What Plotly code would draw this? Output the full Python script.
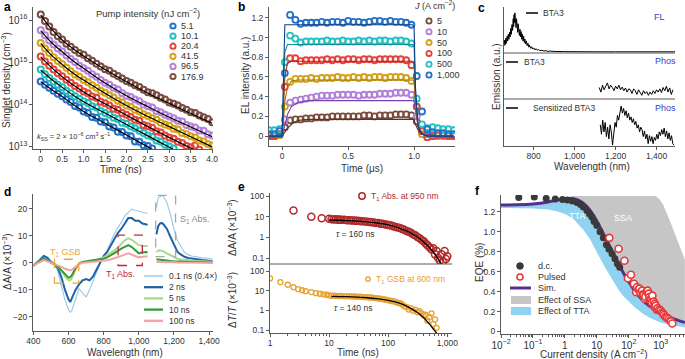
import plotly.graph_objects as go

W, H = 685, 359
FONT = "Liberation Sans"
TXT = "#333333"
AXC = "#5a5a5a"


def px(x):
    return x / W


def py(y):
    return 1 - y / H


# ---------------- panel a : singlet density (log10 values) ----------------
T_A = [0.0, 0.1, 0.2, 0.3, 0.4, 0.5, 0.6, 0.7, 0.8, 0.9, 1.0, 1.1, 1.2, 1.3, 1.4, 1.5, 1.6, 1.7, 1.8, 1.9,
       2.0, 2.1, 2.2, 2.3, 2.4, 2.5, 2.6, 2.7, 2.8, 2.9, 3.0, 3.1, 3.2, 3.3, 3.4, 3.5, 3.6, 3.7, 3.8, 3.9, 4.0]
A_NAMES = ["5.1", "10.1", "20.4", "41.5", "96.5", "176.9"]
A_COLORS = ["#2372c6", "#22bfc0", "#e6433b", "#d4a413", "#b483dc", "#7b4b40"]
A_LOG_51 = [14.55, 14.47, 14.40, 14.33, 14.26, 14.20, 14.12, 14.06, 13.97, 13.93, 13.84, 13.80, 13.71, 13.69,
            13.60, 13.58, 13.48, 13.46, 13.36, 13.35, 13.27, 13.25, 13.13, 13.12, 13.04, 13.02, 12.96]
A_LOG_101 = [14.83, 14.72, 14.63, 14.55, 14.47, 14.41, 14.33, 14.27, 14.20, 14.14, 14.08, 14.04, 13.96, 13.93,
             13.85, 13.80, 13.76, 13.69, 13.66, 13.57, 13.55, 13.48, 13.44, 13.38, 13.33, 13.27, 13.24, 13.15,
             13.12, 13.05, 13.01, 12.96]
A_LOG_204 = [15.14, 15.02, 14.92, 14.83, 14.74, 14.67, 14.59, 14.52, 14.44, 14.38, 14.31, 14.27, 14.19, 14.16,
             14.07, 14.03, 13.98, 13.90, 13.88, 13.80, 13.76, 13.71, 13.64, 13.62, 13.52, 13.49, 13.45, 13.37,
             13.34, 13.27, 13.22, 13.19, 13.12, 13.09, 13.02, 12.99, 13.03, 12.93]
A_LOG_415 = [15.46, 15.33, 15.22, 15.12, 15.03, 14.96, 14.87, 14.79, 14.71, 14.66, 14.58, 14.53, 14.46, 14.40,
             14.33, 14.28, 14.22, 14.17, 14.09, 14.05, 13.98, 13.95, 13.88, 13.84, 13.77, 13.73, 13.68, 13.64,
             13.57, 13.53, 13.50, 13.43, 13.41, 13.33, 13.30, 13.25, 13.22, 13.15, 13.13, 13.07, 13.03]
A_LOG_965 = [15.76, 15.64, 15.52, 15.42, 15.33, 15.26, 15.16, 15.08, 15.01, 14.92, 14.86, 14.80, 14.72, 14.66,
             14.58, 14.52, 14.47, 14.40, 14.36, 14.27, 14.21, 14.18, 14.12, 14.08, 14.00, 13.96, 13.93, 13.85,
             13.82, 13.76, 13.72, 13.68, 13.62, 13.60, 13.52, 13.48, 13.46, 13.39, 13.38, 13.30, 13.27]
A_LOG_1769 = [16.13, 15.98, 15.85, 15.72, 15.62, 15.54, 15.44, 15.37, 15.29, 15.22, 15.18, 15.10, 15.04, 14.97,
              14.90, 14.84, 14.80, 14.73, 14.68, 14.62, 14.56, 14.52, 14.46, 14.42, 14.35, 14.29, 14.27, 14.22,
              14.16, 14.12, 14.05, 14.02, 13.98, 13.92, 13.88, 13.82, 13.80, 13.74, 13.70, 13.66, 13.58]
T_FIT_A = [0, 0.25, 0.5, 0.75, 1, 1.5, 2, 2.5, 3, 3.5, 4]
A_FIT_51 = [14.54, 14.36, 14.19, 14.01, 13.84, 13.56, 13.28, 13.00, 12.72, 12.44, 12.16]
A_FIT_101 = [14.82, 14.60, 14.41, 14.23, 14.07, 13.80, 13.53, 13.26, 12.99, 12.72, 12.45]
A_FIT_204 = [15.13, 14.88, 14.66, 14.47, 14.30, 14.02, 13.75, 13.48, 13.22, 12.97, 12.72]
A_FIT_415 = [15.45, 15.17, 14.95, 14.75, 14.58, 14.27, 13.98, 13.72, 13.48, 13.24, 13.00]
A_FIT_965 = [15.75, 15.47, 15.25, 15.04, 14.86, 14.51, 14.21, 13.95, 13.70, 13.47, 13.24]
A_FIT_1769 = [16.12, 15.79, 15.53, 15.33, 15.15, 14.83, 14.54, 14.27, 14.03, 13.79, 13.56]
A_TICKS = [0, 0.5, 1.0, 1.5, 2.0, 2.5, 3.0, 3.5, 4.0]
A_TICKTEXT = ["0", "0.5", "1.0", "1.5", "2.0", "2.5", "3.0", "3.5", "4.0"]

# ---------------- panel b : EL transients ----------------
T_B = [-0.1, -0.06, -0.02, 0.02, 0.06, 0.1, 0.14, 0.18, 0.22, 0.26, 0.3, 0.34, 0.38, 0.42, 0.46, 0.5, 0.54,
       0.58, 0.62, 0.66, 0.7, 0.74, 0.78, 0.82, 0.86, 0.9, 0.94, 0.98, 1.02, 1.06, 1.1, 1.14, 1.18, 1.22, 1.26, 1.3]
B_NAMES = ["5", "10", "50", "100", "500", "1,000"]
B_COLORS = ["#7a4b3a", "#b07fd8", "#d4a017", "#e8403a", "#22c1c3", "#2470c8"]
B_LINE_COLORS = ["#5a3325", "#7a3fb0", "#a07a00", "#b01e1e", "#0e8f92", "#0d3f8a"]
B_5 = [0.0, 0.0, 0.01, 0.09, 0.16, 0.17, 0.17, 0.18, 0.18, 0.19, 0.19, 0.19, 0.20, 0.20, 0.20, 0.20, 0.20, 0.20,
       0.21, 0.21, 0.20, 0.21, 0.21, 0.21, 0.22, 0.22, 0.22, 0.21, 0.15, 0.06, 0.03, 0.02, 0.01, 0.01, 0.01, 0.01]
B_10 = [0.01, 0.01, 0.02, 0.17, 0.34, 0.36, 0.37, 0.38, 0.39, 0.40, 0.41, 0.41, 0.41, 0.42, 0.42, 0.42, 0.42, 0.41,
        0.42, 0.42, 0.42, 0.43, 0.43, 0.43, 0.44, 0.44, 0.44, 0.42, 0.20, 0.05, 0.02, 0.02, 0.01, 0.01, 0.01, 0.01]
B_50 = [0.0, 0.0, 0.01, 0.30, 0.55, 0.58, 0.58, 0.58, 0.59, 0.58, 0.59, 0.59, 0.59, 0.60, 0.59, 0.59, 0.60, 0.59,
        0.60, 0.59, 0.60, 0.60, 0.59, 0.60, 0.60, 0.60, 0.59, 0.56, 0.30, 0.02, -0.01, 0.0, 0.0, 0.0, 0.0, 0.0]
B_100 = [0.0, 0.0, 0.02, 0.50, 0.79, 0.79, 0.76, 0.77, 0.77, 0.77, 0.77, 0.78, 0.77, 0.78, 0.77, 0.78, 0.78, 0.77,
         0.78, 0.78, 0.77, 0.78, 0.78, 0.78, 0.78, 0.78, 0.77, 0.72, 0.30, 0.05, -0.01, 0.0, 0.01, 0.01, 0.0, 0.0]
B_500 = [0.06, 0.06, 0.07, 0.75, 1.02, 0.99, 0.95, 0.96, 0.96, 0.96, 0.96, 0.97, 0.96, 0.96, 0.97, 0.96, 0.96, 0.97,
         0.96, 0.97, 0.96, 0.97, 0.97, 0.96, 0.97, 0.97, 0.96, 0.94, 0.38, 0.12, 0.08, 0.09, 0.08, 0.07, 0.07, 0.06]
B_1000 = [0.02, 0.02, 0.05, 0.64, 1.23, 1.18, 1.14, 1.15, 1.15, 1.15, 1.16, 1.15, 1.16, 1.16, 1.15, 1.17, 1.16, 1.16,
          1.15, 1.16, 1.17, 1.17, 1.16, 1.17, 1.16, 1.16, 1.15, 1.13, 0.61, 0.25, 0.07, 0.04, 0.03, 0.03, 0.02, 0.02]
T_BL = [-0.1, 0.0, 0.01, 0.02, 0.04, 0.07, 0.12, 0.2, 0.99, 1.0, 1.01, 1.03, 1.06, 1.1, 1.2, 1.3]
BL_5 = [0, 0, 0.02, 0.04, 0.08, 0.12, 0.16, 0.17, 0.17, 0.17, 0.12, 0.06, 0.02, 0.01, 0, 0]
BL_10 = [0, 0, 0.05, 0.12, 0.22, 0.30, 0.34, 0.36, 0.36, 0.35, 0.25, 0.10, 0.03, 0.01, 0, 0]
BL_50 = [0, 0, 0.15, 0.35, 0.50, 0.56, 0.57, 0.57, 0.57, 0.56, 0.35, 0.10, 0.02, 0, 0, 0]
BL_100 = [0, 0, 0.30, 0.60, 0.74, 0.76, 0.76, 0.76, 0.76, 0.74, 0.40, 0.10, 0.02, 0, 0, 0]
BL_500 = [0, 0, 0.45, 0.85, 0.93, 0.93, 0.93, 0.93, 0.93, 0.90, 0.45, 0.10, 0.02, 0, 0, 0]
BL_1000 = [0, 0, 0.60, 1.13, 1.13, 1.13, 1.13, 1.13, 1.13, 1.10, 0.50, 0.10, 0.02, 0, 0, 0]

# ---------------- panel c : emission spectra ----------------
WL_FL = [655, 658, 661, 664, 667, 670, 673, 676, 679, 682, 685, 688, 691, 694, 697, 700, 702, 704, 706, 708,
         710, 712, 714, 716, 718, 720, 722, 724, 726, 728, 730, 733, 736, 739, 742, 745, 748, 751, 754, 757,
         760, 764, 768, 772, 776, 780, 785, 790, 795, 800, 806, 812, 818, 824, 830, 840, 850, 860, 870, 880,
         900, 950, 1000, 1100, 1200, 1300, 1400, 1490]
FL = [0.15, 0.30, 0.18, 0.35, 0.22, 0.40, 0.28, 0.45, 0.32, 0.50, 0.38, 0.60, 0.45, 0.70, 0.55, 0.85, 0.65, 0.95,
      0.75, 1.00, 0.70, 0.92, 0.62, 0.85, 0.58, 0.78, 0.50, 0.72, 0.48, 0.65, 0.42, 0.58, 0.38, 0.52, 0.32, 0.45,
      0.28, 0.40, 0.24, 0.33, 0.20, 0.28, 0.16, 0.22, 0.12, 0.17, 0.09, 0.13, 0.07, 0.10, 0.05, 0.08, 0.04, 0.06,
      0.03, 0.04, 0.02, 0.03, 0.01, 0.02, 0.01, 0.005, 0.0, 0.0, 0.0, 0.0, 0.0, 0.0]
WL_PHOS1 = list(range(1120, 1481, 8))
PHOS1 = [0.25, 0.15, 0.30, 0.20, 0.28, 0.35, 0.22, 0.30, 0.25, 0.18, 0.28, 0.22, 0.30, 0.20, 0.26, 0.18, 0.24,
         0.15, 0.22, 0.20, 0.12, 0.22, 0.18, 0.10, 0.20, 0.15, 0.08, 0.18, 0.12, 0.16, 0.08, 0.15, 0.10, 0.18,
         0.12, 0.20, 0.15, 0.22, 0.14, 0.25, 0.18, 0.28, 0.15, 0.24, 0.10, 0.20]
WL_PHOS2 = list(range(1125, 1486, 6))
PHOS2 = [0.45, 0.25, 0.55, 0.30, 0.50, 0.20, 0.40, 0.15, 0.45, 0.30, 0.02, 0.35, 0.50, 0.40, 0.65, 0.55, 0.75,
         0.85, 0.70, 0.80, 0.65, 0.75, 0.60, 0.70, 0.55, 0.62, 0.50, 0.58, 0.45, 0.52, 0.38, 0.45, 0.30, 0.40,
         0.35, 0.20, 0.32, 0.15, 0.25, 0.05, 0.22, 0.10, 0.20, 0.05, 0.18, 0.12, 0.25, 0.15, 0.30, 0.22, 0.35,
         0.25, 0.38, 0.20, 0.32, 0.15, 0.28, 0.12, 0.22, 0.05, 0.02]

# ---------------- panel d : transient absorption spectra ----------------
WL_D = [400, 420, 440, 460, 480, 500, 520, 540, 560, 580, 600, 610, 620, 640, 660, 680, 700, 720, 740, 760, 780,
        800, 820, 840, 860, 880, 900, 920, 940, 960, 980, 1000, 1020, 1040, 1050, 1075, 1100, 1110, 1120, 1130,
        1140, 1160, 1180, 1200, 1220, 1240, 1260, 1280, 1300, 1330, 1360, 1400, 1420]
D_NAMES = ["0.1 ns (0.4×)", "2 ns", "5 ns", "10 ns", "100 ns"]
D_COLORS = ["#9fcbe8", "#1f62a8", "#a8da8e", "#3a9a3a", "#f2a3a3"]
D_WIDTHS = [1.2, 2.0, 2.0, 2.0, 2.0]
D_01 = [-1.2, 0.2, 1.5, 2.7, 2.0, 0.5, -0.7, -3.4, -8.3, -13.8, -17.4, -18.3, -17.4, -13.2, -9.5, -11.3, -12.6,
        -10.0, -7.0, -3.4, 0.0, 2.7, 4.5, 7.6, 10.6, 13.0, 14.9, 17.3, 18.5, 19.8, 19.4, 19.1, 18.8, 18.5, 18.2,
        None, 20.4, 24.0, 24.4, 24.8, 24.6, 22.2, 17.9, 12.4, 8.2, 5.7, 3.8, 3.0, 2.5, 2.2, 1.8, 1.6, 1.2]
D_2 = [-1.2, 0.0, 1.5, 2.5, 1.8, 0.3, -0.5, -2.0, -5.5, -10.0, -13.5, -14.5, -13.0, -10.0, -8.0, -6.5, -6.0,
       -6.5, -5.0, -2.5, 0.0, 2.5, 4.0, 6.5, 9.0, 11.0, 12.5, 14.5, 16.5, 16.5, 15.5, 15.5, 14.5, 14.2, 14.0,
       None, 10.5, 13.5, 14.5, 14.7, 14.2, 12.5, 9.5, 6.5, 4.0, 3.0, 2.2, 1.8, 1.5, 1.3, 1.0, 0.8, 0.6]
D_5 = [-1.0, 0.0, 1.0, 1.5, 1.0, 0.0, -0.5, -1.5, -3.0, -5.0, -6.5, -6.5, -5.5, -2.5, -0.5, 0.3, 0.6, 0.8, 1.0,
       1.2, 1.5, 2.0, 2.8, 3.5, 4.5, 5.5, 7.0, 8.3, 9.0, 8.5, 7.5, 6.5, 6.2, 6.3, 6.2,
       None, 4.0, 4.5, 4.6, 4.5, 4.2, 3.5, 2.8, 2.0, 1.5, 1.2, 1.0, 0.9, 0.8, 0.7, 0.6, 0.5, 0.4]
D_10 = [-1.0, 0.0, 1.0, 1.5, 1.0, 0.0, -0.5, -1.5, -2.8, -4.3, -5.5, -5.3, -4.5, -2.0, -0.3, 0.3, 0.5, 0.7, 0.9,
        1.0, 1.2, 1.5, 2.0, 2.7, 3.5, 4.3, 5.2, 6.0, 6.5, 5.8, 4.5, 3.5, 3.8, 4.0, 3.8,
        None, 1.3, 1.2, 1.2, 1.1, 1.0, 0.8, 0.7, 0.6, 0.5, 0.5, 0.4, 0.4, 0.3, 0.3, 0.2, 0.2, 0.1]
D_100 = [-1.0, -0.3, 0.5, 1.0, 0.5, 0.0, -0.3, -0.8, -1.5, -2.2, -2.8, -2.8, -2.5, -1.5, -0.5, 0.0, 0.2, 0.3,
         0.4, 0.5, 0.6, 0.7, 0.9, 1.2, 1.6, 2.0, 2.5, 3.0, 3.5, 3.0, 2.5, 2.0, 2.2, 2.5, 2.4,
         None, 0.3, 0.3, 0.4, 0.3, 0.3, 0.2, 0.2, 0.2, 0.1, 0.1, 0.1, 0.0, 0.0, 0.0, 0.0, -0.1, 0.0]
BOX_T1GSB = [520, 658, -7.5, 1.3]
BOX_T1ABS = [882, 1020, -1.0, 10.2]
BOX_S1ABS = [1096, 1209, 2.3, 24.9]

# ---------------- panel e : kinetics ----------------
E_ABS_T = [2.5, 5, 7.5, 10, 11, 12, 13, 14, 15, 16, 18, 20, 22, 24, 26, 28, 30, 33, 36, 40, 44, 48, 52, 57, 62,
           68, 74, 80, 87, 95, 103, 112, 122, 133, 145, 158, 172, 187, 204, 222, 242, 263, 287, 312, 340, 370,
           400, 430, 460, 500, 540, 580, 620, 660, 700, 750, 800, 850, 900, 950, 1000]
E_ABS = [20, 10, 8.3, 8.0, 7.6, 7.3, 7.5, 7.1, 7.2, 7.0, 7.0, 6.8, 6.7, 6.6, 6.5, 6.3, 6.3, 6.1, 6.0, 5.8, 5.7,
         5.5, 5.4, 5.2, 5.0, 4.9, 4.6, 4.5, 4.3, 4.1, 3.9, 3.7, 3.45, 3.2, 3.0, 2.8, 2.5, 2.3, 2.05, 1.85, 1.65,
         1.4, 1.25, 1.05, 0.9, 0.75, 0.65, 0.5, 0.42, 0.33, 0.26, 0.3, 0.15, 0.22, 0.1, 0.075, 0.15, 0.07, 0.22,
         0.09, 0.12]
E_FIT1_T = [10, 20, 40, 70, 100, 150, 200, 300, 400, 500, 600, 700, 800, 850]
E_FIT1 = [6.9, 6.5, 5.8, 4.8, 4.0, 2.9, 2.1, 1.12, 0.6, 0.32, 0.17, 0.09, 0.05, 0.036]
E_GSB_T = [1, 1.5, 2, 2.5, 3, 3.5, 4, 5, 6, 7, 8, 9, 10, 11, 12, 13, 14, 15, 16, 18, 20, 22, 24, 26, 28, 30, 33,
           36, 40, 44, 48, 52, 57, 62, 68, 74, 80, 87, 95, 103, 112, 122, 133, 145, 158, 172, 187, 204, 222, 242,
           263, 287, 312, 340, 370, 400, 430, 460, 500, 540, 580, 620, 660]
E_GSB = [42, 27, 20, 15, 12, 10.5, 9.5, 8.5, 7.5, 7.0, 6.5, 6.2, 5.9, 5.5, 5.6, 5.4, 5.5, 5.3, 5.4, 5.2, 5.3,
         5.1, 5.2, 5.0, 5.1, 4.9, 5.0, 4.8, 4.7, 4.7, 4.5, 4.5, 4.3, 4.2, 4.0, 3.9, 3.7, 3.6, 3.4, 3.2, 3.0, 2.9,
         2.7, 2.4, 2.3, 2.0, 1.6, 1.5, 1.1, 1.3, 0.95, 1.1, 0.8, 0.9, 0.7, 0.55, 0.6, 0.3, 0.45, 0.7, 0.2, 0.35,
         0.13]
E_FIT2_T = [11, 20, 40, 70, 100, 150, 200, 300, 400, 500, 600, 700, 750]
E_FIT2 = [5.2, 5.0, 4.5, 3.8, 3.2, 2.4, 1.7, 0.85, 0.42, 0.2, 0.1, 0.055, 0.04]

# ---------------- panel f : EQE roll-off ----------------
F_X = [0.01, 0.03, 0.1, 0.3, 0.6, 1, 1.5, 2, 3, 4, 6, 8, 10, 15, 20, 30, 50, 70, 100, 150, 200, 300, 500, 700,
       1000, 1500, 2000, 3000, 5700]
F_SIM = [1.27, 1.272, 1.28, 1.30, 1.32, 1.335, 1.335, 1.33, 1.31, 1.28, 1.22, 1.16, 1.11, 1.00, 0.92, 0.81, 0.67,
         0.58, 0.50, 0.41, 0.36, 0.30, 0.245, 0.21, 0.175, 0.155, 0.14, 0.12, 0.09]
F_TTA_LOW = [1.24, 1.24, 1.235, 1.225, 1.205, 1.18, 1.15, 1.12, 1.06, 1.01, 0.93, 0.86, 0.80, 0.69, 0.62, 0.52,
             0.41, 0.35, 0.30, 0.245, 0.21, 0.17, 0.13, 0.11, 0.09, 0.075, 0.065, 0.055, 0.04]
F_SSA_X = [1.5, 700, 900, 1200, 2000, 3200, 5700]
F_SSA_TOP = [1.36, 1.36, 1.33, 1.27, 1.10, 0.92, 0.72]
DC_X = [0.036, 0.11, 0.26, 0.5, 0.84, 1.2, 1.7, 2.4, 3.1, 3.8, 4.9, 5.9, 7.0, 8.2, 10, 12.6, 16, 20, 24, 30, 37,
        44, 52]
DC_Y = [1.345, 1.35, 1.335, 1.33, 1.325, 1.32, 1.31, 1.295, 1.275, 1.25, 1.215, 1.18, 1.15, 1.105, 1.065, 1.0,
        0.94, 0.87, 0.825, 0.78, 0.73, 0.68, 0.645]
PULSED_X = [24.6, 48, 73, 94, 117, 145, 170, 180, 200, 215, 230, 260, 270, 290, 315, 330, 360, 390, 420, 440, 460,
            490, 520, 550, 600, 640, 660, 700, 750, 800, 900, 1000, 1100, 1200, 1250, 1400, 1500, 1600, 1800,
            2000, 2100, 2300]
PULSED_Y = [0.94, 0.83, 0.71, 0.535, 0.57, 0.48, 0.395, 0.445, 0.42, 0.43, 0.39, 0.41, 0.37, 0.365, 0.33, 0.35,
            0.40, 0.41, 0.38, 0.345, 0.32, 0.31, 0.29, 0.36, 0.30, 0.25, 0.28, 0.26, 0.22, 0.235, 0.22, 0.21, 0.19,
            0.18, 0.165, 0.15, 0.14, 0.135, 0.125, 0.11, 0.10, 0.08]

# =====================================================================
fig = go.Figure()

# panel a
a_pts = [A_LOG_51, A_LOG_101, A_LOG_204, A_LOG_415, A_LOG_965, A_LOG_1769]
a_fit = [A_FIT_51, A_FIT_101, A_FIT_204, A_FIT_415, A_FIT_965, A_FIT_1769]
for vals, col in zip(a_pts, A_COLORS):
    fig.add_trace(go.Scatter(x=T_A[:len(vals)], y=[10 ** v for v in vals], mode="markers",
                             marker=dict(symbol="circle-open", size=6, color=col, line=dict(width=2)),
                             xaxis="x", yaxis="y"))
for vals in a_fit:
    fig.add_trace(go.Scatter(x=T_FIT_A, y=[10 ** v for v in vals], mode="lines",
                             line=dict(color="black", width=1.2, shape="spline"), xaxis="x", yaxis="y"))

# panel b
b_pts = [B_5, B_10, B_50, B_100, B_500, B_1000]
b_lines = [BL_5, BL_10, BL_50, BL_100, BL_500, BL_1000]
for vals, col in zip(b_pts, B_COLORS):
    fig.add_trace(go.Scatter(x=T_B, y=vals, mode="markers",
                             marker=dict(symbol="circle-open", size=6, color=col, line=dict(width=1.8)),
                             xaxis="x2", yaxis="y2"))
for vals, col in zip(b_lines, B_LINE_COLORS):
    fig.add_trace(go.Scatter(x=T_BL, y=vals, mode="lines", line=dict(color=col, width=1.1),
                             xaxis="x2", yaxis="y2"))

# panel c
fig.add_trace(go.Scatter(x=WL_FL, y=FL, mode="lines", line=dict(color="black", width=1), xaxis="x3", yaxis="y3"))
fig.add_trace(go.Scatter(x=WL_PHOS1, y=PHOS1, mode="lines", line=dict(color="black", width=1), xaxis="x3", yaxis="y4"))
fig.add_trace(go.Scatter(x=WL_PHOS2, y=PHOS2, mode="lines", line=dict(color="black", width=1), xaxis="x3", yaxis="y5"))

# panel d
for vals, col, w in zip([D_01, D_2, D_5, D_10, D_100], D_COLORS, D_WIDTHS):
    fig.add_trace(go.Scatter(x=WL_D, y=vals, mode="lines", line=dict(color=col, width=w), connectgaps=False,
                             xaxis="x4", yaxis="y6"))

# panel e
fig.add_trace(go.Scatter(x=E_ABS_T, y=E_ABS, mode="markers",
                         marker=dict(symbol="circle-open", size=7, color="#b22a2a", line=dict(width=1.5)),
                         xaxis="x5", yaxis="y7"))
fig.add_trace(go.Scatter(x=E_FIT1_T, y=E_FIT1, mode="lines", line=dict(color="black", width=1.3, shape="spline"),
                         xaxis="x5", yaxis="y7"))
fig.add_trace(go.Scatter(x=E_GSB_T, y=E_GSB, mode="markers",
                         marker=dict(symbol="circle-open", size=5, color="#e8a030", line=dict(width=1.3)),
                         xaxis="x5", yaxis="y8"))
fig.add_trace(go.Scatter(x=E_FIT2_T, y=E_FIT2, mode="lines", line=dict(color="black", width=1.3, shape="spline"),
                         xaxis="x5", yaxis="y8"))

# panel f
grey_x = F_SSA_X + [x for x in reversed(F_X) if x >= 1.5]
grey_y = F_SSA_TOP + [y for x, y in zip(reversed(F_X), reversed(F_SIM)) if x >= 1.5]
fig.add_trace(go.Scatter(x=grey_x, y=grey_y, mode="lines", fill="toself", fillcolor="#c6c6c6",
                         line=dict(width=0, color="#c6c6c6"), xaxis="x6", yaxis="y9"))
blue_x = F_X + list(reversed(F_X))
blue_y = F_SIM + list(reversed(F_TTA_LOW))
fig.add_trace(go.Scatter(x=blue_x, y=blue_y, mode="lines", fill="toself", fillcolor="#8fd3f0",
                         line=dict(width=0, color="#8fd3f0"), xaxis="x6", yaxis="y9"))
fig.add_trace(go.Scatter(x=F_X, y=F_SIM, mode="lines", line=dict(color="#5a2d91", width=3, shape="spline"),
                         xaxis="x6", yaxis="y9"))
fig.add_trace(go.Scatter(x=DC_X, y=DC_Y, mode="markers", marker=dict(size=7, color="#3a3a3a"),
                         xaxis="x6", yaxis="y9"))
fig.add_trace(go.Scatter(x=PULSED_X, y=PULSED_Y, mode="markers",
                         marker=dict(symbol="circle", size=7, color="white", line=dict(width=1.6, color="#e8383a")),
                         xaxis="x6", yaxis="y9"))

# ---------------- axes ----------------
TF = dict(size=8.5, color=TXT, family=FONT)


def ax(**kw):
    d = dict(showline=True, linecolor=AXC, linewidth=1, ticks="outside", ticklen=3, tickcolor=AXC,
             tickfont=TF, showgrid=False, zeroline=False, automargin=False)
    d.update(kw)
    return d


def xax(**kw):
    kw.setdefault("ticklabelstandoff", -1)
    return ax(**kw)


MINOR = dict(ticks="outside", ticklen=2, tickcolor=AXC, showgrid=False)
TF_POW = dict(size=8, color=TXT, family=FONT)

layout_axes = dict(
    xaxis=xax(domain=[px(33), px(213)], range=[-0.18, 4.02], tickvals=A_TICKS, ticktext=A_TICKTEXT, anchor="y"),
    yaxis=ax(domain=[py(149), py(7)], type="log", range=[12.95, 16.31], dtick=1, exponentformat="power",
             tickfont=TF_POW, anchor="x"),
    xaxis2=xax(domain=[px(269), px(455)], range=[-0.1, 1.31], tickvals=[0, 0.5, 1.0], ticktext=["0", "0.5", "1.0"],
               anchor="y2"),
    yaxis2=ax(domain=[py(146), py(7)], range=[-0.1, 1.31], tickvals=[0, 0.2, 0.4, 0.6, 0.8, 1.0, 1.2],
              ticktext=["0", "0.2", "0.4", "0.6", "0.8", "1.0", "1.2"], anchor="x2"),
    xaxis3=xax(domain=[px(504), px(675)], range=[655, 1490], tickvals=[800, 1000, 1200, 1400],
               ticktext=["800", "1,000", "1,200", "1,400"], anchor="y5"),
    yaxis3=ax(domain=[py(53), py(7)], range=[-0.03, 1.15], ticks="", showticklabels=False, anchor="x3"),
    yaxis4=ax(domain=[py(99), py(53)], range=[0, 1.0], ticks="", showticklabels=False, anchor="x3"),
    yaxis5=ax(domain=[py(146), py(99)], range=[0, 1.0], ticks="", showticklabels=False, anchor="x3"),
    xaxis4=xax(domain=[px(33), px(213)], range=[398, 1422], tickvals=[400, 600, 800, 1000, 1200, 1400],
               ticktext=["400", "600", "800", "1,000", "1,200", "1,400"], anchor="y6"),
    yaxis6=ax(domain=[py(331), py(194)], range=[-25.2, 25.4], tickvals=[-20, -10, 0, 10, 20], anchor="x4"),
    xaxis5=xax(domain=[px(270), px(452)], type="log", range=[0, 3.08], dtick=1, tickformat=",", minor=MINOR,
               anchor="y8"),
    yaxis7=ax(domain=[py(264), py(193)], type="log", range=[-1.29, 2.145], tickvals=[0.1, 1, 10, 100],
              ticktext=["0.1", "1", "10", "100"], anchor="x5"),
    yaxis8=ax(domain=[py(333), py(264)], type="log", range=[-1.15, 2.356], tickvals=[0.1, 1, 10, 100],
              ticktext=["0.1", "1", "10", "100"], anchor="x5"),
    xaxis6=xax(domain=[px(501), 1.0], type="log", range=[-2, 3.76], dtick=1, exponentformat="power", minor=MINOR,
               tickfont=TF_POW, anchor="y9"),
    yaxis9=ax(domain=[py(334), py(195)], range=[-0.025, 1.37], tickvals=[0, 0.2, 0.4, 0.6, 0.8, 1.0, 1.2],
              ticktext=["0", "0.2", "0.4", "0.6", "0.8", "1.0", "1.2"], anchor="x6"),
)

# ---------------- annotations & legend keys ----------------
ann = []
shapes = []


def text(x, y, s, size=9, color=TXT, xa="left", ya="middle", angle=0, xref="paper", yref="paper"):
    ann.append(dict(x=px(x) if xref == "paper" else x, y=py(y) if yref == "paper" else y, xref=xref, yref=yref,
                    text=s, showarrow=False, xanchor=xa, yanchor=ya, textangle=angle,
                    font=dict(size=size, color=color, family=FONT)))


def circ(cx, cy, r, col, lw=1.8, fill="white"):
    shapes.append(dict(type="circle", xref="paper", yref="paper", x0=px(cx - r), x1=px(cx + r),
                       y0=py(cy + r), y1=py(cy - r), line=dict(color=col, width=lw), fillcolor=fill))


def hline(x0, x1, y, col, w=1.0, dash="solid"):
    shapes.append(dict(type="line", xref="paper", yref="paper", x0=px(x0), x1=px(x1), y0=py(y), y1=py(y),
                       line=dict(color=col, width=w, dash=dash)))


def rect(x0, x1, y0, y1, col):
    shapes.append(dict(type="rect", xref="paper", yref="paper", x0=px(x0), x1=px(x1), y0=py(y1), y1=py(y0),
                       line=dict(width=0), fillcolor=col))


# panel letters
for lab, x, y in [("a", 2, 7), ("b", 236, 7), ("c", 476, 8), ("d", 2, 192), ("e", 236, 187), ("f", 473, 191)]:
    text(x, y, "<b>%s</b>" % lab, size=12, color="black")

# axis titles
text(6, 80, "Singlet density (cm<sup>−3</sup>)", size=10, xa="center", angle=-90)
text(121, 170, "Time (ns)", size=10, xa="center")
text(245, 76, "EL intensity (a.u.)", size=10, xa="center", angle=-90)
text(362, 168, "Time (μs)", size=10, xa="center")
text(496, 77, "Emission (a.u.)", size=10, xa="center", angle=-90)
text(592, 166, "Wavelength (nm)", size=10, xa="center")
text(7, 262, "ΔA/A (×10<sup>−3</sup>)", size=10, xa="center", angle=-90)
text(125, 352, "Wavelength (nm)", size=10, xa="center")
text(232, 228, "ΔA/A (×10<sup>−3</sup>)", size=10, xa="center", angle=-90)
text(232, 300, "Δ<i>T</i>/<i>T</i> (×10<sup>−3</sup>)", size=10, xa="center", angle=-90)
text(358, 352, "Time (ns)", size=10, xa="center")
text(479, 263, "EQE (%)", size=10, xa="center", angle=-90)
text(593, 354, "Current density (A cm<sup>−2</sup>)", size=10, xa="center")

# panel a legend
text(148, 13, "Pump intensity (nJ cm<sup>−2</sup>)", size=9.5, xa="center")
for i, (nm, col) in enumerate(zip(A_NAMES, A_COLORS)):
    y = 26 + i * 10.1
    circ(173, y, 2.6, col, lw=2)
    text(179, y, nm, size=9)
text(35, 136, "<i>k</i><sub>SS</sub> = 2 × 10<sup>−6</sup> cm<sup>3</sup> s<sup>−1</sup>", size=7.5)

# panel b legend
text(434, 5, "<i>J</i> (A cm<sup>−2</sup>)", size=9, xa="center")
for i, (nm, col) in enumerate(zip(B_NAMES, B_COLORS)):
    y = 21 + i * 10.8
    circ(429, y, 2.6, col, lw=1.8)
    text(435, y, nm, size=9)

# panel c labels and dividers
hline(504, 675, 53, AXC, 1)
hline(504, 675, 99, AXC, 1)
hline(526, 538, 13, "black", 1.5)
text(541, 13, "BTA3", size=8.5)
hline(506, 518, 62, "black", 1.5)
text(522, 62, "BTA3", size=8.5)
hline(506, 518, 108, "black", 1.5)
text(531, 108, "Sensitized BTA3", size=8.5)
text(659, 17, "FL", size=9, color="#3b3bc8", xa="center")
text(665, 61, "Phos", size=9, color="#3b3bc8", xa="center")
text(665, 108, "Phos", size=9, color="#3b3bc8", xa="center")

# panel d boxes and labels
for box, col in [(BOX_T1GSB, "#f0a53a"), (BOX_T1ABS, "#c0283a"), (BOX_S1ABS, "#a8a8a8")]:
    shapes.append(dict(type="rect", xref="x4", yref="y6", x0=box[0], x1=box[1], y0=box[2], y1=box[3],
                       line=dict(color=col, width=1.3, dash="dash")))
text(585, 3.8, "T<sub>1</sub> GSB", size=9, color="#f0a53a", xa="center", xref="x4", yref="y6")
text(895, -4.2, "T<sub>1</sub> Abs.", size=9, color="#c0283a", xa="center", xref="x4", yref="y6")
text(1222, 16, "S<sub>1</sub> Abs.", size=9, color="#8a8a8a", xa="left", xref="x4", yref="y6")
for i, (nm, col, w) in enumerate(zip(D_NAMES, D_COLORS, D_WIDTHS)):
    y = 276 + i * 11.2
    hline(144, 163, y, col, w + 0.3)
    text(167, y, nm, size=8.5)

# panel e labels
hline(270, 452, 264, AXC, 1)
circ(362, 196, 3.2, "#b22a2a", lw=1.5)
text(369, 196, "T<sub>1</sub> Abs. at 950 nm", size=8.5, color="#b22a2a")
circ(368, 279, 2.2, "#e8a030", lw=1.3)
text(374, 279, "T<sub>1</sub> GSB at 600 nm", size=8.5, color="#e8a030")
text(355, 234, "<i>τ</i> = 160 ns", size=8.5, xa="center")
text(353, 308, "<i>τ</i> = 140 ns", size=8.5, xa="center")

# panel f legend
circ(520, 266, 3.3, "#3a3a3a", lw=1, fill="#3a3a3a")
text(536, 266, "d.c.", size=9)
circ(520, 277, 3.0, "#e8383a", lw=1.6)
text(536, 277, "Pulsed", size=9)
hline(510, 531, 288, "#5a2d91", 3)
text(536, 288, "Sim.", size=9)
rect(511, 531, 296, 304, "#c6c6c6")
text(536, 300, "Effect of SSA", size=9)
rect(511, 531, 307, 315, "#8fd3f0")
text(536, 311, "Effect of TTA", size=9)
text(577, 216, "TTA", size=9, color="white", xa="center")
text(623, 218, "SSA", size=9, color="white", xa="center")

fig.update_layout(
    width=W, height=H, margin=dict(l=0, r=0, t=0, b=0, autoexpand=False),
    paper_bgcolor="white", plot_bgcolor="white", showlegend=False,
    font=dict(family=FONT, size=9, color=TXT),
    annotations=ann, shapes=shapes, **layout_axes)

fig.write_html("out.html", config={"displayModeBar": False},
               post_script="document.body.style.margin='0px';document.body.style.overflow='hidden';")
